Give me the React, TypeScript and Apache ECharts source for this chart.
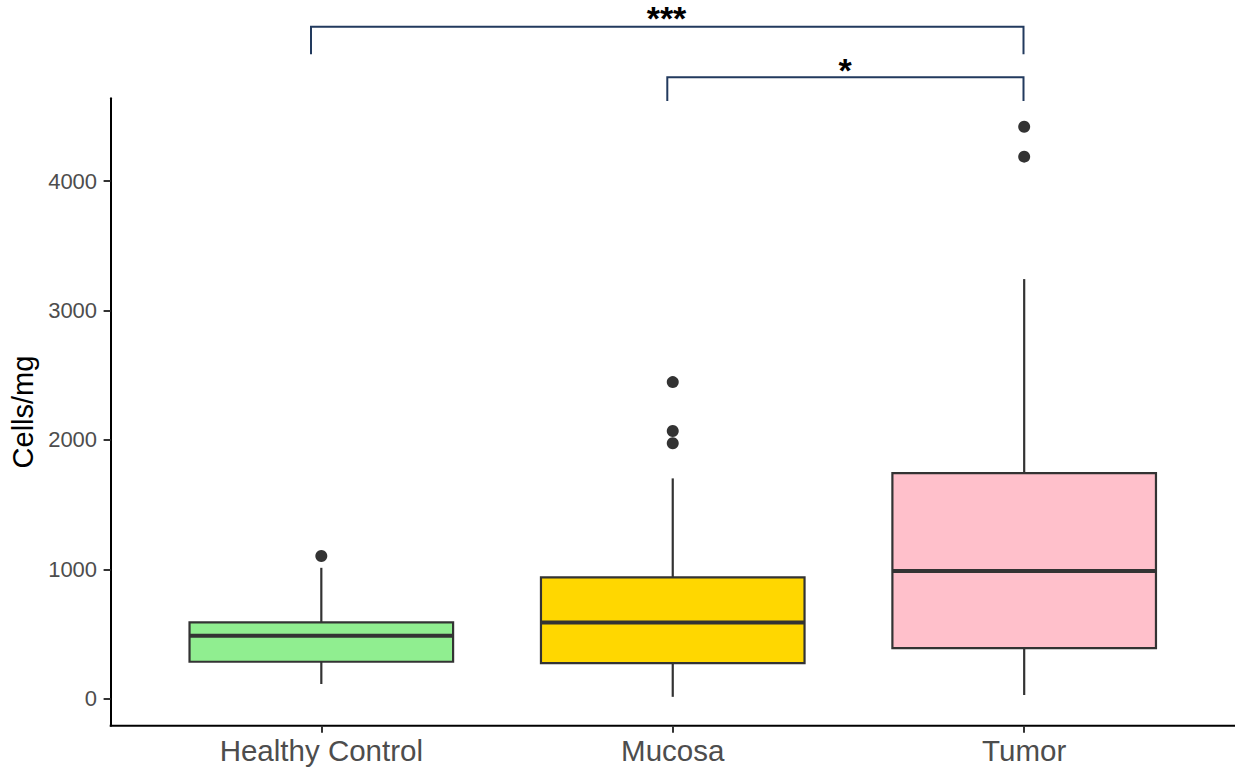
import React, { useEffect, useRef } from "react";
import * as echarts from "echarts";

// ---- data ----
const categories = ["Healthy Control", "Mucosa", "Tumor"];
const lowerWhisker = [114, 15, 29];
const q1 = [286, 276, 392];
const median = [487, 590, 987];
const q3 = [590, 938, 1744];
const upperWhisker = [1012, 1703, 3243];
const outliers: number[][] = [[1103], [1974, 2069, 2447], [4189, 4420]];
const fillColors = ["#90EE90", "#FFD700", "#FFC0CB"];
const yTicks = [0, 1000, 2000, 3000, 4000];
const yTitle = "Cells/mg";
const comparisonLabels = ["***", "*"];

const FONT = "'Liberation Sans', Arial, Helvetica, sans-serif";

export default function App() {
  const ref = useRef<HTMLDivElement>(null);

  useEffect(() => {
    if (!ref.current) return;
    const chart = echarts.init(ref.current, undefined, { renderer: "svg" });

    const boxData = categories.map((_, i) => [
      i,
      lowerWhisker[i],
      q1[i],
      median[i],
      q3[i],
      upperWhisker[i],
    ]);
    const outlierData: number[][] = [];
    outliers.forEach((arr, i) => arr.forEach((v) => outlierData.push([i, v])));

    const bracketColor = "#223a5e";

    const option: any = {
      animation: false,
      backgroundColor: "#ffffff",
      textStyle: { fontFamily: FONT },
      grid: {
        left: 145.6,
        right: 38.1,
        top: 98.3,
        bottom: 46.3,
        containLabel: false,
        outerBoundsMode: "none",
      },
      xAxis: {
        type: "category",
        data: categories,
        axisLine: { show: false, onZero: false },
        axisTick: {
          show: true,
          alignWithLabel: true,
          length: 7,
          lineStyle: { color: "#333333", width: 2 },
        },
        axisLabel: { fontSize: 29.5, color: "#4d4d4d", margin: 10, fontFamily: FONT },
        splitLine: { show: false },
      },
      yAxis: {
        type: "value",
        min: -208,
        max: 4640,
        offset: 35,
        name: yTitle,
        nameLocation: "middle",
        nameGap: 63,
        nameTextStyle: { fontSize: 29, color: "#000000", fontFamily: FONT },
        axisLine: { show: true, onZero: false, lineStyle: { color: "#000000", width: 2 } },
        axisTick: {
          show: true,
          length: 7,
          lineStyle: { color: "#333333", width: 2 },
          customValues: yTicks,
        },
        axisLabel: {
          fontSize: 22,
          color: "#4d4d4d",
          margin: 13.5,
          fontFamily: FONT,
          customValues: yTicks,
          formatter: (v: number) => String(v),
        },
        splitLine: { show: false },
      },
      series: [
        {
          type: "custom",
          data: boxData,
          encode: { x: 0, y: [1, 2, 3, 4, 5] },
          z: 2,
          renderItem: (params: any, api: any) => {
            const idx = api.value(0);
            const pLo = api.coord([idx, api.value(1)]);
            const pQ1 = api.coord([idx, api.value(2)]);
            const pMed = api.coord([idx, api.value(3)]);
            const pQ3 = api.coord([idx, api.value(4)]);
            const pHi = api.coord([idx, api.value(5)]);
            const bw = api.size([1, 0])[0] * 0.75;
            const cx = pMed[0];
            const stroke = "#333333";
            return {
              type: "group",
              children: [
                {
                  type: "line",
                  shape: { x1: cx, y1: pHi[1], x2: cx, y2: pQ3[1] },
                  style: { stroke, lineWidth: 2.2 },
                },
                {
                  type: "line",
                  shape: { x1: cx, y1: pQ1[1], x2: cx, y2: pLo[1] },
                  style: { stroke, lineWidth: 2.2 },
                },
                {
                  type: "rect",
                  shape: { x: cx - bw / 2, y: pQ3[1], width: bw, height: pQ1[1] - pQ3[1] },
                  style: { fill: fillColors[params.dataIndex], stroke, lineWidth: 2.2 },
                },
                {
                  type: "line",
                  shape: { x1: cx - bw / 2, y1: pMed[1], x2: cx + bw / 2, y2: pMed[1] },
                  style: { stroke, lineWidth: 4 },
                },
              ],
            };
          },
        },
        {
          type: "scatter",
          data: outlierData,
          symbol: "circle",
          symbolSize: 12,
          itemStyle: { color: "#333333", opacity: 1 },
          z: 3,
        },
      ],
      graphic: [
        {
          type: "line",
          shape: { x1: 109.7, y1: 725.7, x2: 1235, y2: 725.7 },
          style: { stroke: "#000000", lineWidth: 2 },
        },
        {
          type: "polyline",
          shape: { points: [[311, 54.3], [311, 26.7], [1023.5, 26.7], [1023.5, 54.3]] },
          style: { stroke: bracketColor, lineWidth: 2, fill: null },
        },
        {
          type: "polyline",
          shape: { points: [[667.3, 101], [667.3, 77.3], [1023.5, 77.3], [1023.5, 101]] },
          style: { stroke: bracketColor, lineWidth: 2, fill: null },
        },
        {
          type: "text",
          x: 666.5,
          y: 17.5,
          style: {
            text: comparisonLabels[0],
            fontSize: 34,
            fontWeight: "bold",
            fill: "#000000",
            align: "center",
            verticalAlign: "middle",
            fontFamily: FONT,
          },
        },
        {
          type: "text",
          x: 845,
          y: 70,
          style: {
            text: comparisonLabels[1],
            fontSize: 34,
            fontWeight: "bold",
            fill: "#000000",
            align: "center",
            verticalAlign: "middle",
            fontFamily: FONT,
          },
        },
      ],
    };

    chart.setOption(option);
    return () => chart.dispose();
  }, []);

  return (
    <div
      ref={ref}
      style={{ position: "absolute", left: 0, top: 0, width: 1238, height: 772, background: "#fff" }}
    />
  );
}
